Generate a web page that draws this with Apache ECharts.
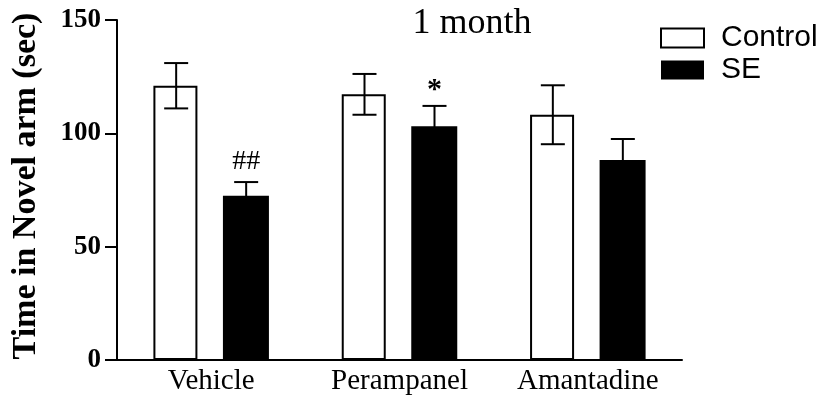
<!DOCTYPE html>
<html>
<head>
<meta charset="utf-8">
<script src="https://cdn.jsdelivr.net/npm/echarts@6/dist/echarts.min.js"></script>
<style>
html,body{margin:0;padding:0;background:#fff;}
#chart{width:834px;height:411px;}
</style>
</head>
<body>
<div id="chart"></div>
<script>
var categories = ['Vehicle', 'Perampanel', 'Amantadine'];
var controlMean = [121, 117.2, 108.2];
var controlSem = [10, 9, 13];
var seMean = [72.5, 103.1, 88.2];
var seSem = [6, 9, 9.3];
var seMarks = ['##', '*', ''];
var yTicks = [0, 50, 100, 150];

var chart = echarts.init(document.getElementById('chart'));
var serif = '"Liberation Serif", "Times New Roman", serif';
var sans = '"Liberation Sans", Arial, sans-serif';

function errData(means, sems, marks) {
  return means.map(function (m, i) { return [i, m, sems[i], marks ? marks[i] : '']; });
}

function errRender(offset) {
  return function (params, api) {
    var i = api.value(0), m = api.value(1), s = api.value(2);
    var mark = api.value(3);
    var c = api.coord([i, m]);
    var hi = api.coord([i, m + s]);
    var lo = api.coord([i, m - s]);
    var x = c[0] + offset;
    var half = 12;
    var style = { stroke: '#000', lineWidth: 2 };
    var children = [
      { type: 'line', shape: { x1: x, y1: hi[1], x2: x, y2: lo[1] }, style: style },
      { type: 'line', shape: { x1: x - half, y1: hi[1], x2: x + half, y2: hi[1] }, style: style },
      { type: 'line', shape: { x1: x - half, y1: lo[1], x2: x + half, y2: lo[1] }, style: style }
    ];
    if (mark) {
      var isStar = mark === '*';
      children.push({
        type: 'text',
        style: {
          text: mark, x: x, y: isStar ? hi[1] - 1 : hi[1] - 20,
          align: 'center', verticalAlign: isStar ? 'bottom' : 'middle',
          font: (isStar ? 'bold 30px ' : '28px ') + serif, fill: '#000'
        }
      });
    }
    return { type: 'group', children: children };
  };
}

chart.setOption({
  animation: false,
  backgroundColor: '#fff',
  title: {
    text: '1 month', left: 467, top: 1, textAlign: 'center',
    textStyle: { fontFamily: serif, fontSize: 36, fontWeight: 'normal', color: '#000' }
  },
  legend: {
    orient: 'vertical', left: 655, top: 18, icon: 'rect',
    itemWidth: 43, itemHeight: 19, itemGap: 2,
    textStyle: { fontFamily: sans, fontSize: 30, lineHeight: 30, color: '#000', padding: [0, 0, 0, 12] },
    data: [
      { name: 'Control', itemStyle: { color: '#fff', borderColor: '#000', borderWidth: 2 } },
      { name: 'SE', itemStyle: { color: '#000' } }
    ]
  },
  grid: { left: 117, right: 152, top: 20, bottom: 51 },
  xAxis: {
    type: 'category', data: categories,
    axisLine: { lineStyle: { color: '#000', width: 2 } },
    axisTick: { alignWithLabel: true, length: 12, lineStyle: { color: '#000', width: 2 } },
    axisLabel: { fontFamily: serif, fontSize: 29, color: '#000', margin: 7 }
  },
  yAxis: {
    type: 'value', min: yTicks[0], max: yTicks[yTicks.length - 1], interval: 50,
    name: 'Time in Novel arm (sec)', nameLocation: 'middle', nameGap: 74,
    nameTextStyle: { fontFamily: serif, fontSize: 34, fontWeight: 'bold', color: '#000', padding: [0, 0, 0, 8] },
    axisLine: { show: true, lineStyle: { color: '#000', width: 2 } },
    axisTick: { show: true, length: 12, lineStyle: { color: '#000', width: 2 } },
    axisLabel: { fontFamily: serif, fontSize: 27, fontWeight: 'bold', color: '#000', margin: 16 },
    splitLine: { show: false }
  },
  series: [
    {
      name: 'Control', type: 'bar', data: controlMean, barWidth: 44, barGap: '58%',
      itemStyle: { color: '#fff', borderColor: '#000', borderWidth: 2 }
    },
    {
      name: 'SE', type: 'bar', data: seMean, barWidth: 46,
      itemStyle: { color: '#000' }
    },
    {
      type: 'custom', name: 'errC', renderItem: errRender(-35),
      data: errData(controlMean, controlSem), z: 5,
      encode: { x: 0, y: 1 }
    },
    {
      type: 'custom', name: 'errS', renderItem: errRender(35),
      data: errData(seMean, seSem, seMarks), z: 5,
      encode: { x: 0, y: 1 }
    }
  ]
});
</script>
</body>
</html>
